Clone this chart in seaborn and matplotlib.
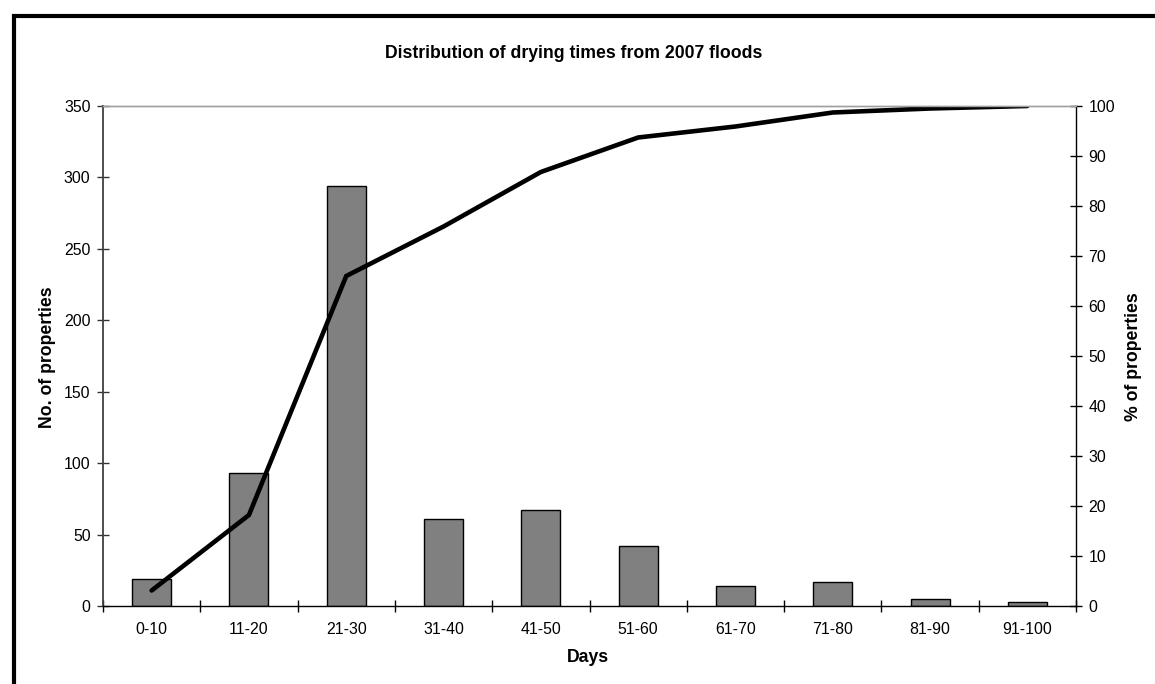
import numpy as np
import pandas as pd
import matplotlib
matplotlib.use("Agg")
import matplotlib.pyplot as plt
from matplotlib.patches import Rectangle
import seaborn as sns

# ---- data ----
days = ["0-10", "11-20", "21-30", "31-40", "41-50", "51-60", "61-70", "71-80", "81-90", "91-100"]
n_properties = [19, 93, 294, 61, 67, 42, 14, 17, 5, 3]
pct_cumulative = [3.1, 18.2, 66.0, 75.9, 86.8, 93.7, 95.9, 98.7, 99.5, 100.0]

title = "Distribution of drying times from 2007 floods"
xlabel = "Days"
ylabel_left = "No. of properties"
ylabel_right = "% of properties"

sns.set_theme(style="white")
plt.rcParams["font.family"] = ["Liberation Sans", "DejaVu Sans"]
plt.rcParams["text.color"] = "black"
plt.rcParams["axes.labelcolor"] = "black"
plt.rcParams["xtick.color"] = "black"
plt.rcParams["ytick.color"] = "black"

W, H, DPI = 1155, 684, 100
fig = plt.figure(figsize=(W / DPI, H / DPI), dpi=DPI)
ax = fig.add_axes([103 / W, 1 - 606 / H, (1076 - 103) / W, (606 - 106) / H])

df = pd.DataFrame({"days": days, "n": n_properties, "pct": pct_cumulative})

sns.barplot(data=df, x="days", y="n", ax=ax, color="#808080", saturation=1,
            width=0.4, edgecolor="black", linewidth=1.0, zorder=2)
ax.set_ylim(0, 350)
ax.set_yticks(np.arange(0, 351, 50))
ax.set_xlim(-0.5, len(days) - 0.5)

ax2 = ax.twinx()
sns.lineplot(x=np.arange(len(days)), y=df["pct"], ax=ax2, color="black",
             linewidth=3.3, solid_capstyle="round", solid_joinstyle="miter")
ax2.set_ylim(0, 100)
ax2.set_yticks(np.arange(0, 101, 10))
ax.set_xlim(-0.5, len(days) - 0.5)
ax.set_xticks(np.arange(len(days)))
ax.set_xticklabels(days)

TICK_FS = 11.4
LABEL_FS = 12.7

# tick styling
ax.set_xticks(np.arange(-0.5, len(days), 1.0), minor=True)
ax.tick_params(axis="x", which="major", length=0, pad=11.5, labelsize=TICK_FS, labelcolor="black")
ax.tick_params(axis="x", which="minor", direction="inout", length=8, width=1, color="black", bottom=True)
ax.tick_params(axis="y", which="major", direction="inout", length=8, width=1, color="#333333",
               pad=5, labelsize=TICK_FS, labelcolor="black", left=True)
ax2.tick_params(axis="y", which="major", direction="inout", length=8, width=1, color="black",
                pad=5, labelsize=TICK_FS, labelcolor="black", right=True)

# spines
for a in (ax, ax2):
    a.spines["top"].set_color("#a0a0a0")
    a.spines["top"].set_linewidth(1.0)
ax.spines["left"].set_color("#404040")
ax.spines["left"].set_linewidth(1.3)
ax.spines["bottom"].set_color("black")
ax.spines["bottom"].set_linewidth(1.0)
ax2.spines["right"].set_color("black")
ax2.spines["right"].set_linewidth(1.0)
ax2.spines["left"].set_visible(False)
ax2.spines["bottom"].set_visible(False)
ax.spines["right"].set_visible(False)

ax.set_xlabel("")
ax.set_ylabel("")
ax2.set_ylabel("")

fig.text(574 / W, 1 - 53 / H, title, ha="center", va="center", fontsize=LABEL_FS, fontweight="bold")
fig.text(588 / W, 1 - 657 / H, xlabel, ha="center", va="center", fontsize=LABEL_FS, fontweight="bold")
fig.text(48 / W, 1 - 357 / H, ylabel_left, ha="center", va="center", rotation=90,
         fontsize=LABEL_FS, fontweight="bold")
fig.text(1133 / W, 1 - 357 / H, ylabel_right, ha="center", va="center", rotation=90,
         fontsize=LABEL_FS, fontweight="bold")

# outer chart frame (only left and top edges visible in the reference)
fig.patches.append(Rectangle((14 / W, -0.1), 1.2, 1 - 16.5 / H + 0.1, transform=fig.transFigure,
                             fill=False, edgecolor="black", linewidth=3.0, zorder=10))

fig.savefig("out.png", dpi=DPI)
